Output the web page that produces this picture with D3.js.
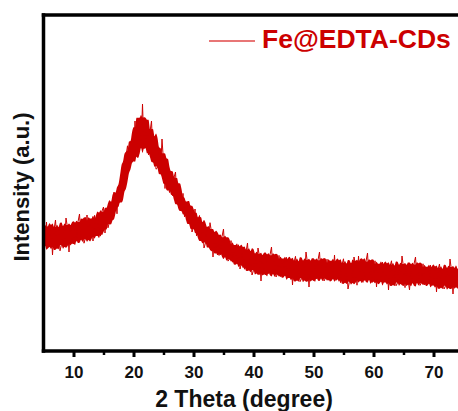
<!DOCTYPE html>
<html>
<head>
<meta charset="utf-8">
<script src="https://cdn.jsdelivr.net/npm/d3@7"></script>
<style>
  html, body { margin: 0; padding: 0; background: #fff; }
  svg { display: block; }
  text { font-family: Arial, "Liberation Sans", sans-serif; font-weight: bold; }
</style>
</head>
<body>
<svg id="chart" width="458" height="411"></svg>
<script>
// ---- Data ----
const seriesName = "Fe@EDTA-CDs";
const thetaStart = 5;      // first 2θ sample (degree)
const thetaStep = 0.25;    // 2θ sampling step (degree)
// intensity (a.u.), one row per degree: 2θ = n.00, n.25, n.50, n.75
const intensity = [
  1220,1062,1290,1046,  // 5
  1078,1240, 960,1214,  // 6
  1310,1068,1210,1002,  // 7
  1064,1236,1098,1330,  // 8
  1232, 990,1256,1118,  // 9
  1070,1234,1098,1292,  // 10
  1370,1130,1274,1078,  // 11
  1132,1360,1124,1279,  // 12
  1315,1100,1356,1152,  // 13
  1188,1354,1149,1400,  // 14
  1440,1180,1385,1232,  // 15
  1290,1480,1360,1590,  // 16
  1530,1372,1655,1537,  // 17
  1520,1774,1657,1953,  // 18
  2052,1818,2086,1890,  // 19
  1900,2300,1978,2320,  // 20
  2256,2038,2470,2023,  // 21
  2071,2305,1961,2193,  // 22
  2300,1937,2086,1818,  // 23
  1832,2024,1803,2120,  // 24
  1894,1625,1880,1664,  // 25
  1585,1800,1552,1734,  // 26
  1790,1499,1612,1406,  // 27
  1410,1576,1342,1469,  // 28
  1475,1294,1452,1190,  // 29
  1240,1420,1152,1314,  // 30
  1355,1131,1258,1030,  // 31
  1080,1238,1085,1283,  // 32
  1190, 940,1180,1025,  // 33
   960,1111, 962,1144,  // 34
  1220, 956,1088, 899,  // 35
   920,1104, 888,1031,  // 36
  1055, 889,1062, 820,  // 37
   880,1034, 818, 991,  // 38
  1080, 830, 965, 760,  // 39
   805, 970, 825,1030,  // 40
   945, 700, 958, 814,  // 41
   760, 917, 774, 961,  // 42
  1040, 785, 923, 740,  // 43
   768, 956, 744, 892,  // 44
   920, 758, 936, 734,  // 45
   762, 921, 660, 888,  // 46
   947, 736, 875, 693,  // 47
   722, 891, 750, 990,  // 48
   878, 640, 896, 755,  // 49
   704, 863, 722, 911,  // 50
   990, 740, 880, 700,  // 51
   728, 918, 708, 858,  // 52
   886, 726, 960, 706,  // 53
   734, 894, 684, 864,  // 54
   922, 712, 852, 620,  // 55
   700, 870, 730, 940,  // 56
   858, 658, 950, 738,  // 57
   686, 846, 706, 896,  // 58
   980, 724, 864, 684,  // 59
   712, 902, 640, 842,  // 60
   870, 710, 890, 690,  // 61
   716, 876, 610, 846,  // 62
   902, 692, 832, 652,  // 63
   678, 848, 708, 950,  // 64
   834, 634, 854, 714,  // 65
   610, 820, 680, 870,  // 66
   940, 696, 836, 656,  // 67
   682, 872, 662, 812,  // 68
   838, 678, 858, 658,  // 69
   684, 844, 590, 814,  // 70
   870, 660, 800, 620,  // 71
   647, 817, 677, 920,  // 72
   804, 570, 824, 684,  // 73
   631, 791, 651, 841   // 74
];
const xMajorTicks = [10, 20, 30, 40, 50, 60, 70];
const xMinorTicks = [15, 25, 35, 45, 55, 65];
const xDomain = [5, 75];
const yDomain = [0, 3360];
const xTitle = "2 Theta (degree)";
const yTitle = "Intensity (a.u.)";

// ---- Drawing ----
const svg = d3.select("#chart");
const pLeft = 43.5, pRight = 463.5, pTop = 15, pBottom = 351;
const x = d3.scaleLinear().domain(xDomain).range([pLeft, pRight]);
const y = d3.scaleLinear().domain(yDomain).range([pBottom, pTop]);

const red = "#cc0000";
const n = intensity.length;
const data = intensity.map((v, i) => ({ t: thetaStart + i * thetaStep, v }));

// dense-sampling look: solid core = local mean ± local mean deviation of the samples
const band = data.map((d, i) => {
  const w = intensity.slice(Math.max(0, i - 4), Math.min(n, i + 5));
  const m = d3.mean(w);
  const dev = d3.mean(w, v => Math.abs(v - m));
  return { t: d.t, lo: m - 1.1 * dev, hi: m + 1.1 * dev };
});

svg.append("defs").append("clipPath").attr("id", "plotclip")
  .append("rect").attr("x", pLeft).attr("y", pTop).attr("width", pRight - pLeft).attr("height", pBottom - pTop);

const plot = svg.append("g").attr("clip-path", "url(#plotclip)");
plot.append("path")
  .datum(band)
  .attr("fill", red)
  .attr("stroke", "none")
  .attr("d", d3.area().curve(d3.curveMonotoneX).x(d => x(d.t)).y0(d => y(d.lo)).y1(d => y(d.hi)));
plot.append("path")
  .datum(data)
  .attr("fill", "none")
  .attr("stroke", red)
  .attr("stroke-width", 1)
  .attr("stroke-linejoin", "miter")
  .attr("stroke-miterlimit", 3)
  .attr("d", d3.line().x(d => x(d.t)).y(d => y(d.v)));

// bottom axis with major ticks
const xAxis = d3.axisBottom(x).tickValues(xMajorTicks).tickSize(6).tickSizeOuter(0).tickPadding(9);
const gx = svg.append("g").attr("transform", `translate(0,${pBottom})`).call(xAxis);
gx.select(".domain").remove();
gx.selectAll(".tick line").attr("stroke", "#000").attr("stroke-width", 3);
gx.selectAll(".tick text").attr("font-size", 17).attr("fill", "#111")
  .style("font-family", "Arial, 'Liberation Sans', sans-serif").style("font-weight", "bold");

// minor ticks
const xMinor = d3.axisBottom(x).tickValues(xMinorTicks).tickSize(4).tickFormat("");
const gm = svg.append("g").attr("transform", `translate(0,${pBottom})`).call(xMinor);
gm.select(".domain").remove();
gm.selectAll(".tick line").attr("stroke", "#000").attr("stroke-width", 2.5);

// frame: left, bottom, top
svg.append("line").attr("x1", pLeft - 1.75).attr("x2", pRight).attr("y1", pBottom).attr("y2", pBottom)
  .attr("stroke", "#000").attr("stroke-width", 3.5);
svg.append("line").attr("x1", pLeft).attr("x2", pLeft).attr("y1", pTop - 1.75).attr("y2", pBottom + 1.75)
  .attr("stroke", "#000").attr("stroke-width", 3.5);
svg.append("line").attr("x1", pLeft - 1.75).attr("x2", pRight).attr("y1", pTop).attr("y2", pTop)
  .attr("stroke", "#000").attr("stroke-width", 3.5);

// axis titles
svg.append("text").attr("x", 244).attr("y", 407).attr("text-anchor", "middle")
  .attr("font-size", 23).attr("fill", "#111").text(xTitle);
svg.append("text").attr("transform", "translate(29,187) rotate(-90)").attr("text-anchor", "middle")
  .attr("font-size", 22).attr("fill", "#111").text(yTitle);

// legend
svg.append("line").attr("x1", 209).attr("x2", 255).attr("y1", 41).attr("y2", 41)
  .attr("stroke", "#e04848").attr("stroke-width", 1.6);
svg.append("text").attr("x", 262).attr("y", 47.5).attr("font-size", 26.5)
  .attr("fill", red).text(seriesName);
</script>
</body>
</html>
